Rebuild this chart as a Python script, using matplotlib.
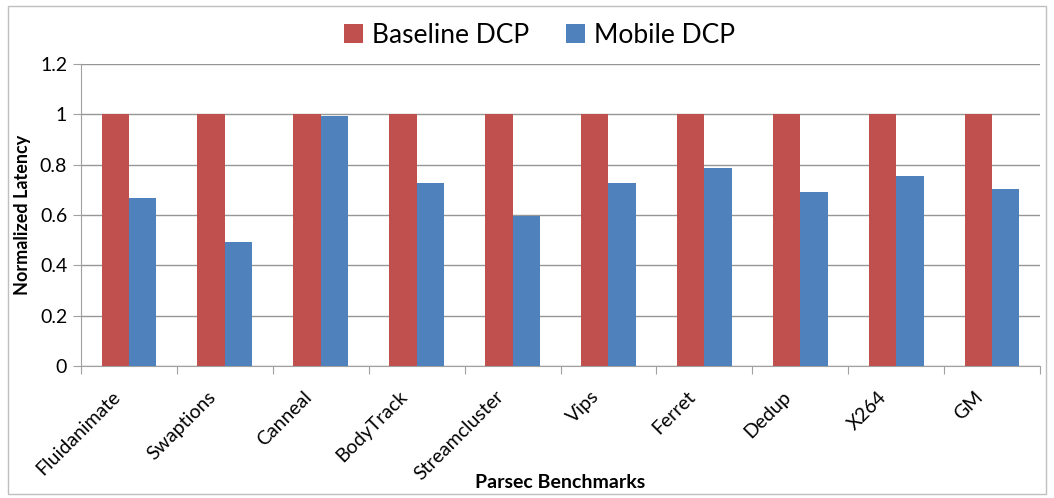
import numpy as np
import matplotlib
matplotlib.use('Agg')
import matplotlib.pyplot as plt
import matplotlib.transforms as mtrans
from matplotlib.patches import Rectangle

# Data
benchmarks = ['Fluidanimate', 'Swaptions', 'Canneal', 'BodyTrack', 'Streamcluster',
              'Vips', 'Ferret', 'Dedup', 'X264', 'GM']
baseline_dcp = [1, 1, 1, 1, 1, 1, 1, 1, 1, 1]
mobile_dcp = [0.667, 0.493, 0.993, 0.727, 0.597, 0.727, 0.787, 0.691, 0.755, 0.703]

plt.rcParams['font.family'] = ['Lato', 'DejaVu Sans']

fig = plt.figure(figsize=(10.54, 4.98), dpi=100)
ax = fig.add_axes([0.0769, 0.265, 0.9098, 0.6065])

x = np.arange(len(benchmarks))
w = 1 / 3.5
ax.bar(x - w / 2, baseline_dcp, w, color='#C0504D', label='Baseline DCP', zorder=3)
ax.bar(x + w / 2, mobile_dcp, w, color='#4F81BD', label='Mobile DCP', zorder=3)

ax.set_xlim(-0.5, len(benchmarks) - 0.5)
ax.set_ylim(0, 1.2)
ax.set_yticks(np.arange(0, 1.21, 0.2))
ax.set_yticklabels(['0', '0.2', '0.4', '0.6', '0.8', '1', '1.2'], fontsize=14)
ax.yaxis.grid(True, color='#969696', linewidth=1, zorder=0)

# ticks sit between categories, labels at centers (placed as rotated texts)
ax.set_xticks(np.arange(-0.5, len(benchmarks)))
ax.set_xticklabels([])
ax.tick_params(axis='x', length=6, color='#A0A0A0', direction='out')
ax.tick_params(axis='y', length=6, color='#A0A0A0', direction='out', pad=4)

shift = mtrans.ScaledTranslation(-0.12, -0.28, fig.dpi_scale_trans)
for xi, name in zip(x, benchmarks):
    ax.text(xi, 0, name, transform=ax.get_xaxis_transform() + shift,
            rotation=45, rotation_mode='anchor', ha='right', va='center',
            fontsize=14, clip_on=False)

for s in ['top', 'right']:
    ax.spines[s].set_visible(False)
ax.spines['left'].set_color('#A0A0A0')
ax.spines['bottom'].set_color('#A0A0A0')

ax.set_ylabel('Normalized Latency', fontsize=13, fontweight='bold', labelpad=6)
fig.text(0.531, 0.032, 'Parsec Benchmarks', ha='center', va='center',
         fontsize=14, fontweight='bold')

fig.legend(loc='center', bbox_to_anchor=(0.512, 0.929), ncol=2, frameon=False,
           fontsize=19, handlelength=0.72, handleheight=0.72, columnspacing=1.4,
           handletextpad=0.34)

# outer chart border
fig.patches.append(Rectangle((8 / 1054, 4 / 498), 1038 / 1054, 488 / 498,
                             transform=fig.transFigure, fill=False,
                             edgecolor='#BFBFBF', linewidth=1))

fig.savefig('out.png', dpi=100)
